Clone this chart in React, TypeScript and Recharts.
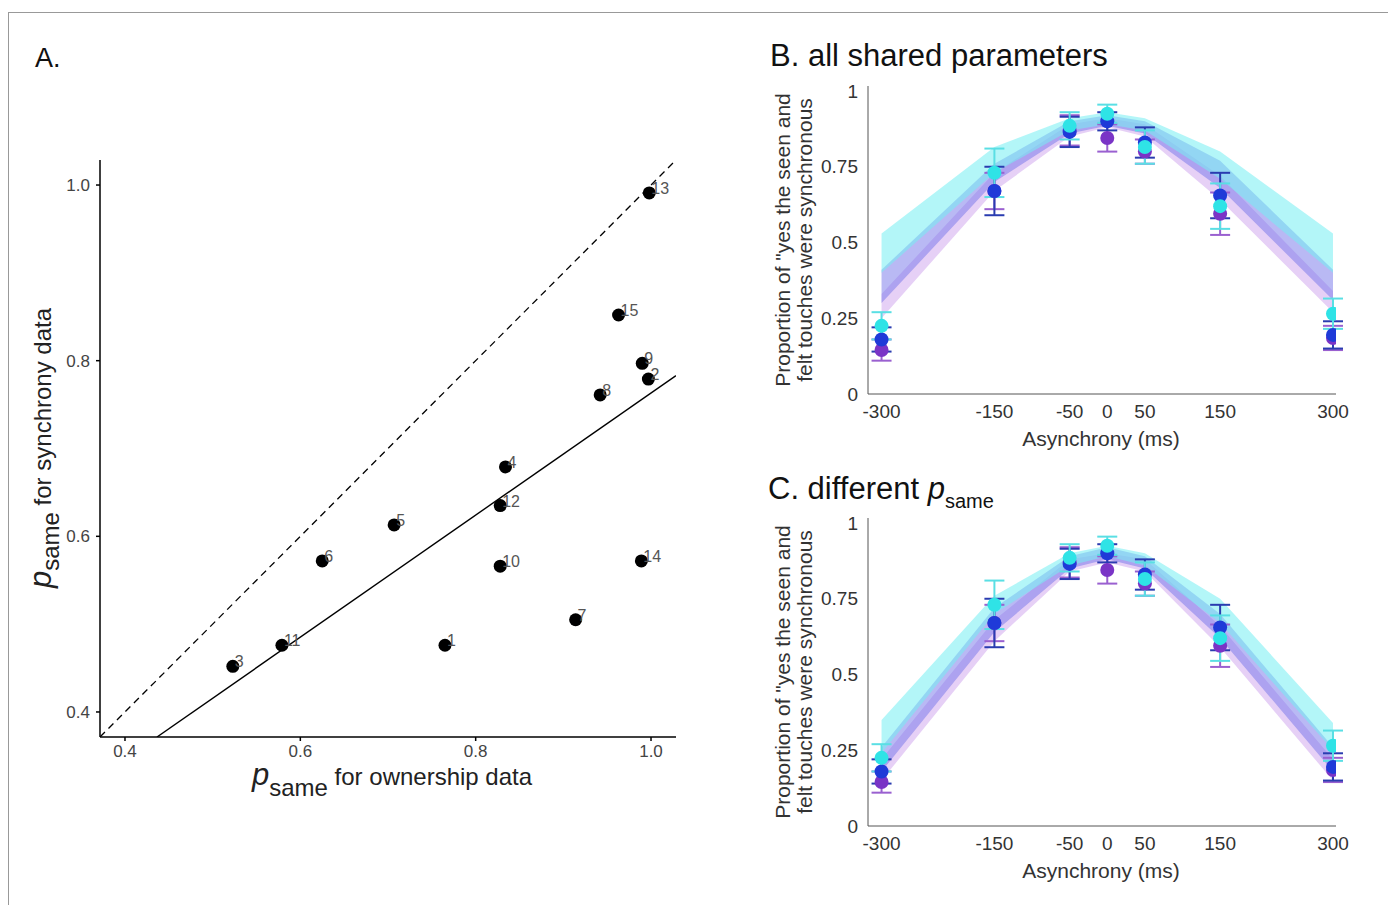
import React from 'react';
import {
  ScatterChart,
  Scatter,
  XAxis,
  YAxis,
  ReferenceLine,
  ComposedChart,
  Area,
  ErrorBar,
} from 'recharts';

// ---- panel A: per-subject p_same estimates ----
const subjects = [1, 2, 3, 4, 5, 6, 7, 8, 9, 10, 11, 12, 13, 14, 15];
const ownership = [0.765, 0.997, 0.523, 0.834, 0.707, 0.625, 0.914, 0.942, 0.99, 0.828, 0.579, 0.828, 0.998, 0.989, 0.963];
const synchrony = [0.476, 0.779, 0.452, 0.679, 0.613, 0.572, 0.505, 0.761, 0.797, 0.566, 0.476, 0.635, 0.991, 0.572, 0.852];
const identityEnds = [0.3715, 1.0285];
const fitX = [0.4365, 1.0285];
const fitY = [0.3715, 0.783];
const ticksA = [0.4, 0.6, 0.8, 1.0];

// ---- panels B/C: proportion "synchronous" by asynchrony ----
const asynchrony = [-300, -150, -50, 0, 50, 150, 300];
const ticksB = [0, 0.25, 0.5, 0.75, 1];

const purpleMean = [0.145, 0.67, 0.87, 0.845, 0.8, 0.595, 0.185];
const purpleErr = [0.035, 0.06, 0.05, 0.045, 0.04, 0.07, 0.04];
const blueMean = [0.18, 0.67, 0.865, 0.9, 0.83, 0.655, 0.195];
const blueErr = [0.04, 0.08, 0.05, 0.03, 0.05, 0.075, 0.045];
const cyanMean = [0.225, 0.73, 0.885, 0.925, 0.815, 0.62, 0.265];
const cyanErr = [0.045, 0.08, 0.045, 0.03, 0.055, 0.075, 0.05];

// model bands, B (all shared parameters)
const cyanLoB = [0.4, 0.73, 0.87, 0.89, 0.87, 0.71, 0.4];
const cyanHiB = [0.53, 0.815, 0.91, 0.93, 0.91, 0.8, 0.53];
const blueLoB = [0.3, 0.7, 0.86, 0.885, 0.86, 0.68, 0.31];
const blueHiB = [0.41, 0.76, 0.9, 0.92, 0.9, 0.77, 0.41];
const purpleLoB = [0.25, 0.67, 0.85, 0.88, 0.85, 0.64, 0.27];
const purpleHiB = [0.33, 0.73, 0.89, 0.91, 0.89, 0.72, 0.34];

// model bands, C (different p_same)
const cyanLoC = [0.24, 0.7, 0.86, 0.89, 0.86, 0.67, 0.25];
const cyanHiC = [0.35, 0.76, 0.9, 0.925, 0.9, 0.75, 0.34];
const blueLoC = [0.18, 0.64, 0.85, 0.88, 0.85, 0.62, 0.18];
const blueHiC = [0.26, 0.72, 0.89, 0.92, 0.89, 0.7, 0.26];
const purpleLoC = [0.15, 0.61, 0.84, 0.87, 0.84, 0.59, 0.15];
const purpleHiC = [0.22, 0.68, 0.88, 0.9, 0.88, 0.66, 0.22];

const FONT = '"Liberation Sans", Arial, Helvetica, sans-serif';

const COLORS = {
  purple: '#7a34c6',
  blue: '#1f3ad8',
  cyan: '#2fe3e6',
  purpleBand: '#d2a9ee',
  blueBand: '#7474ea',
  cyanBand: '#74eef3',
};

function SubjectDot(props: any) {
  const { cx, cy, payload } = props;
  if (cx == null || cy == null) return null;
  return (
    <g>
      <circle cx={cx} cy={cy} r={6.5} fill="#000" />
      <text x={cx + 2} y={cy + 1} fontSize={16} fill="#555" fontFamily={FONT}>
        {payload.id}
      </text>
    </g>
  );
}

function PanelA() {
  const points = subjects.map((id, i) => ({ id, x: ownership[i], y: synchrony[i] }));
  const tickStyle = { fill: '#444', fontSize: 17, fontFamily: FONT };
  return (
    <div style={{ position: 'absolute', left: 20, top: 140 }}>
      <ScatterChart width={680} height={680} margin={{ top: 20, right: 24, bottom: 23, left: 0 }}>
        <XAxis
          type="number"
          dataKey="x"
          domain={[identityEnds[0], identityEnds[1]]}
          ticks={ticksA}
          tickFormatter={(v: number) => v.toFixed(1)}
          tick={tickStyle}
          stroke="#000"
          strokeWidth={1.5}
          tickSize={4}
          tickMargin={4}
          height={60}
          allowDataOverflow
        />
        <YAxis
          type="number"
          dataKey="y"
          domain={[identityEnds[0], identityEnds[1]]}
          ticks={ticksA}
          tickFormatter={(v: number) => v.toFixed(1)}
          tick={tickStyle}
          stroke="#000"
          strokeWidth={1.5}
          tickSize={4}
          tickMargin={6}
          width={80}
          allowDataOverflow
        />
        <ReferenceLine
          segment={[
            { x: identityEnds[0], y: identityEnds[0] },
            { x: identityEnds[1], y: identityEnds[1] },
          ]}
          stroke="#000"
          strokeWidth={1.3}
          strokeDasharray="7 5"
          ifOverflow="hidden"
        />
        <ReferenceLine
          segment={[
            { x: fitX[0], y: fitY[0] },
            { x: fitX[1], y: fitY[1] },
          ]}
          stroke="#000"
          strokeWidth={1.4}
          ifOverflow="hidden"
        />
        <Scatter data={points} shape={<SubjectDot />} isAnimationActive={false} />
      </ScatterChart>
    </div>
  );
}

function TimingPanel({ top, bands }: { top: number; bands: number[][] }) {
  const [cLo, cHi, bLo, bHi, pLo, pHi] = bands;
  const rows = asynchrony.map((x, i) => ({
    x,
    purple: [pLo[i], pHi[i]],
    blue: [bLo[i], bHi[i]],
    cyan: [cLo[i], cHi[i]],
  }));
  const obs = (mean: number[], err: number[]) =>
    asynchrony.map((x, i) => ({ x, y: mean[i], err: err[i] }));
  const dot = (fill: string) => (p: any) =>
    p.cx == null ? null : <circle cx={p.cx} cy={p.cy} r={7} fill={fill} />;
  const tickStyle = { fill: '#333', fontSize: 19, fontFamily: FONT };

  return (
    <div style={{ position: 'absolute', left: 788, top }}>
      <ComposedChart width={570} height={400} data={rows} margin={{ top: 20, right: 22, bottom: 42, left: 0 }}>
        <XAxis
          type="number"
          dataKey="x"
          domain={[-318, 304]}
          ticks={asynchrony}
          tick={tickStyle}
          stroke="#555"
          tickLine={false}
          tickMargin={5}
          height={30}
          allowDataOverflow
        />
        <YAxis
          type="number"
          domain={[0, 1.0165]}
          ticks={ticksB}
          tick={tickStyle}
          stroke="#555"
          tickLine={false}
          tickMargin={4}
          width={80}
          allowDataOverflow
        />
        <Area type="linear" dataKey="purple" stroke="none" fill={COLORS.purpleBand} fillOpacity={0.55} isAnimationActive={false} />
        <Area type="linear" dataKey="blue" stroke="none" fill={COLORS.blueBand} fillOpacity={0.5} isAnimationActive={false} />
        <Area type="linear" dataKey="cyan" stroke="none" fill={COLORS.cyanBand} fillOpacity={0.55} isAnimationActive={false} />
        <Scatter data={obs(purpleMean, purpleErr)} dataKey="y" shape={dot(COLORS.purple)} isAnimationActive={false}>
          <ErrorBar dataKey="err" direction="y" width={10} stroke="#9a60d0" strokeWidth={2} isAnimationActive={false} />
        </Scatter>
        <Scatter data={obs(blueMean, blueErr)} dataKey="y" shape={dot(COLORS.blue)} isAnimationActive={false}>
          <ErrorBar dataKey="err" direction="y" width={10} stroke="#2a3cb0" strokeWidth={2} isAnimationActive={false} />
        </Scatter>
        <Scatter data={obs(cyanMean, cyanErr)} dataKey="y" shape={dot(COLORS.cyan)} isAnimationActive={false}>
          <ErrorBar dataKey="err" direction="y" width={10} stroke="#5adfe4" strokeWidth={2} isAnimationActive={false} />
        </Scatter>
      </ComposedChart>
    </div>
  );
}

function Labels() {
  const timingYLabel = (cy: number) => (
    <g fontSize={21} fill="#333" textAnchor="middle">
      <text transform={`translate(790,${cy}) rotate(-90)`}>Proportion of "yes the seen and</text>
      <text transform={`translate(812,${cy}) rotate(-90)`}>felt touches were synchronous</text>
    </g>
  );
  return (
    <svg
      width={1388}
      height={905}
      style={{ position: 'absolute', left: 0, top: 0, pointerEvents: 'none' }}
      fontFamily={FONT}
    >
      <rect x={8.5} y={12.5} width={1400} height={900} fill="none" stroke="#999" />
      <text x={35} y={67} fontSize={27} fill="#111">A.</text>
      <text x={252} y={785} fontSize={24} fill="#222">
        <tspan fontStyle="italic" fontSize={31}>p</tspan>
        <tspan dy={11}>same</tspan>
        <tspan dy={-11}> for ownership data</tspan>
      </text>
      <text transform="translate(51,588) rotate(-90)" fontSize={24} fill="#222">
        <tspan fontStyle="italic" fontSize={31}>p</tspan>
        <tspan dy={8}>same</tspan>
        <tspan dy={-8}> for synchrony data</tspan>
      </text>

      <text x={770} y={66} fontSize={31} fill="#111">B. all shared parameters</text>
      {timingYLabel(240)}
      <text x={1101} y={446} fontSize={21} fill="#333" textAnchor="middle">Asynchrony (ms)</text>

      <text x={768} y={499} fontSize={31} fill="#111">
        C. different <tspan fontStyle="italic">p</tspan>
        <tspan fontSize={20} dy={9}>same</tspan>
      </text>
      {timingYLabel(672)}
      <text x={1101} y={878} fontSize={21} fill="#333" textAnchor="middle">Asynchrony (ms)</text>
    </svg>
  );
}

export default function App() {
  return (
    <div
      style={{
        position: 'absolute',
        left: 0,
        top: 0,
        width: 1388,
        height: 905,
        overflow: 'hidden',
        background: '#fff',
        fontFamily: FONT,
      }}
    >
      <PanelA />
      <TimingPanel top={66} bands={[cyanLoB, cyanHiB, blueLoB, blueHiB, purpleLoB, purpleHiB]} />
      <TimingPanel top={498} bands={[cyanLoC, cyanHiC, blueLoC, blueHiC, purpleLoC, purpleHiC]} />
      <Labels />
    </div>
  );
}
